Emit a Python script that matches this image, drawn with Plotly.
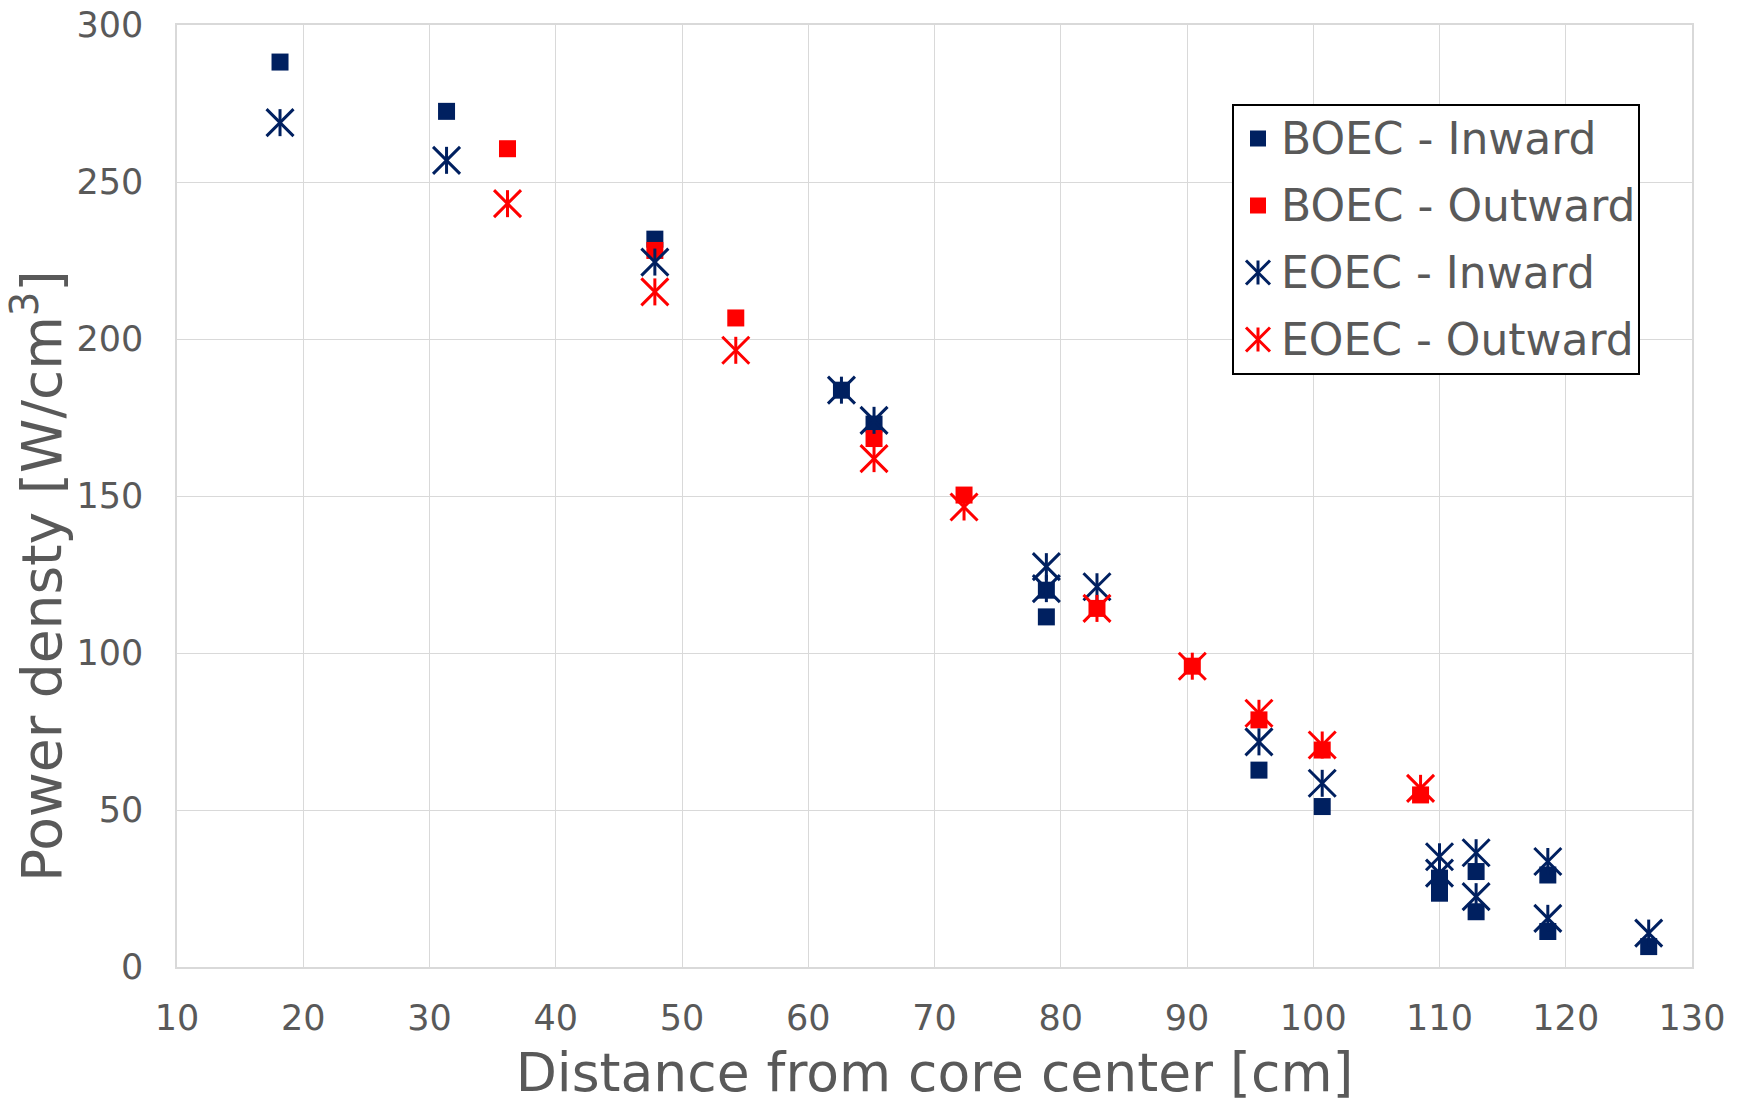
import plotly.graph_objects as go

# Power density vs. distance from the core centre, BOEC / EOEC, inward / outward
boec_in_x = [18.16, 31.35, 47.85, 62.63, 65.21, 78.86, 78.86, 95.70, 100.71,
             110.0, 110.0, 112.9, 112.9, 118.58, 118.58, 126.57]
boec_in_y = [288.2, 272.5, 231.8, 183.7, 172.9, 120.0, 111.5, 62.7, 51.1,
             28.3, 23.5, 30.4, 17.6, 29.3, 11.3, 6.5]

boec_out_x = [36.18, 47.85, 54.26, 65.21, 72.34, 82.87, 90.42, 95.70, 100.71, 108.5]
boec_out_y = [260.6, 228.2, 206.7, 168.3, 150.3, 114.2, 95.8, 78.7, 69.1, 54.8]

eoec_in_x = [18.16, 31.35, 47.85, 62.63, 65.21, 78.86, 78.86, 82.87, 95.70, 100.71,
             110.0, 110.0, 112.9, 112.9, 118.58, 118.58, 126.57]
eoec_in_y = [268.9, 256.9, 224.5, 183.7, 174.1, 127.5, 120.5, 121.1, 71.7, 58.5,
             35.1, 29.9, 36.4, 22.4, 33.6, 15.5, 10.8]

eoec_out_x = [36.18, 47.85, 54.26, 65.21, 72.34, 82.87, 90.42, 95.70, 100.71, 108.5]
eoec_out_y = [243.1, 215.0, 196.4, 161.9, 146.5, 114.2, 95.8, 80.8, 70.7, 56.9]

series_names = ["BOEC - Inward", "BOEC - Outward", "EOEC - Inward", "EOEC - Outward"]
x_title = "Distance from core center [cm]"
y_title = "Power densty [W/cm<sup>3</sup>]"

NAVY = "#002060"
RED = "#FF0000"
GREY_TEXT = "#595959"
GRID = "#d9d9d9"
FONT = "DejaVu Sans"

W, H = 1738, 1104
M_L, M_R, M_T, M_B = 177, 46, 25, 137
PLOT_W = W - M_L - M_R
PLOT_H = H - M_T - M_B

SQ_SIZE = 17
STAR_W = 27          # width/height of the X strokes
STAR_LW = 3
# line-ns draws its stroke 1.4x the half-size, so scale it to the same height
STAR_NS_SIZE = STAR_W / 1.4


def squares(x, y, color, name):
    return go.Scatter(
        x=x, y=y, mode="markers", name=name, showlegend=False,
        marker=dict(symbol="square", size=SQ_SIZE, color=color, line=dict(width=0)),
    )


def stars(x, y, color, name):
    # an Excel-style star: an X crossed by a vertical stroke
    out = []
    for sym, size in (("x-thin-open", STAR_W), ("line-ns-open", STAR_NS_SIZE)):
        out.append(go.Scatter(
            x=x, y=y, mode="markers", name=name, showlegend=False,
            marker=dict(symbol=sym, size=size, color=color,
                        line=dict(width=STAR_LW, color=color)),
        ))
    return out


fig = go.Figure()
fig.add_trace(squares(boec_in_x, boec_in_y, NAVY, series_names[0]))
fig.add_trace(squares(boec_out_x, boec_out_y, RED, series_names[1]))
for t in stars(eoec_in_x, eoec_in_y, NAVY, series_names[2]):
    fig.add_trace(t)
for t in stars(eoec_out_x, eoec_out_y, RED, series_names[3]):
    fig.add_trace(t)


# ---- legend box drawn in paper space (pixel helpers) ----
def px_x(p):
    return (p - M_L) / PLOT_W


def px_y(p):
    return (H - M_B - p) / PLOT_H


shapes = []
annotations = []
box_l, box_r, box_t, box_b = 1233, 1639, 105, 374
shapes.append(dict(type="rect", xref="paper", yref="paper",
                   x0=px_x(box_l), x1=px_x(box_r), y0=px_y(box_b), y1=px_y(box_t),
                   line=dict(color="black", width=2), fillcolor="white", layer="above"))

row_y = [138.5, 205.5, 272.5, 339.5]
icon_x = 1258
text_x = 1279
legend_colors = [NAVY, RED, NAVY, RED]
legend_kind = ["square", "square", "star", "star"]
half_sq = 8
half_star = 12
for name, ry, col, kind in zip(series_names, row_y, legend_colors, legend_kind):
    if kind == "square":
        shapes.append(dict(type="rect", xref="paper", yref="paper",
                           x0=px_x(icon_x - half_sq), x1=px_x(icon_x + half_sq),
                           y0=px_y(ry + half_sq), y1=px_y(ry - half_sq),
                           line=dict(width=0), fillcolor=col, layer="above"))
    else:
        seg = [((icon_x - half_star, ry - half_star), (icon_x + half_star, ry + half_star)),
               ((icon_x - half_star, ry + half_star), (icon_x + half_star, ry - half_star)),
               ((icon_x, ry - half_star), (icon_x, ry + half_star))]
        for (a, b) in seg:
            shapes.append(dict(type="line", xref="paper", yref="paper",
                               x0=px_x(a[0]), y0=px_y(a[1]), x1=px_x(b[0]), y1=px_y(b[1]),
                               line=dict(color=col, width=STAR_LW), layer="above"))
    annotations.append(dict(text=name, xref="paper", yref="paper",
                            x=px_x(text_x), y=px_y(ry), xanchor="left", yanchor="middle",
                            showarrow=False, font=dict(family=FONT, size=44, color=GREY_TEXT)))

# vertical axis title, set a little below the plot's mid-height
annotations.append(dict(text=y_title, xref="paper", yref="paper",
                        x=px_x(38), y=px_y(576), xanchor="center", yanchor="middle",
                        textangle=-90, showarrow=False,
                        font=dict(family=FONT, size=55, color=GREY_TEXT)))

fig.update_layout(
    width=W, height=H,
    margin=dict(l=M_L, r=M_R, t=M_T, b=M_B, autoexpand=False),
    paper_bgcolor="white", plot_bgcolor="white",
    font=dict(family=FONT, color=GREY_TEXT),
    showlegend=False,
    shapes=shapes,
    annotations=annotations,
)

fig.update_xaxes(
    range=[10, 130], dtick=10, tick0=10,
    showgrid=True, gridcolor=GRID, gridwidth=1.3,
    showline=True, linecolor=GRID, linewidth=1.5, mirror=True,
    zeroline=False,
    ticks="outside", ticklen=19, tickcolor="rgba(0,0,0,0)",
    tickfont=dict(family=FONT, size=35, color=GREY_TEXT),
    title=dict(text=x_title, standoff=19,
               font=dict(family=FONT, size=53.5, color=GREY_TEXT)),
    automargin=False,
)
fig.update_yaxes(
    range=[0, 300], dtick=50, tick0=0,
    showgrid=True, gridcolor=GRID, gridwidth=1.3,
    showline=True, linecolor=GRID, linewidth=1.5, mirror=True,
    zeroline=False,
    ticks="outside", ticklen=25, tickcolor="rgba(0,0,0,0)",
    tickfont=dict(family=FONT, size=35, color=GREY_TEXT),
    automargin=False,
)

fig.write_html("out.html")
